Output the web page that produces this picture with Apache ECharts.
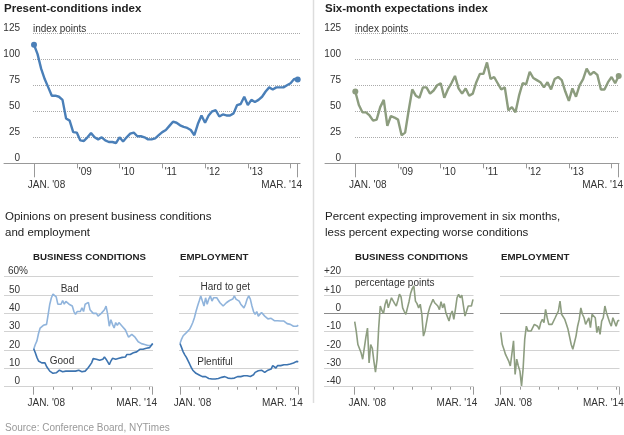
<!DOCTYPE html>
<html><head><meta charset="utf-8">
<script src="https://cdn.jsdelivr.net/npm/echarts@6/dist/echarts.min.js"></script>
<style>html,body{margin:0;padding:0;background:#fff}#c{width:624px;height:435px}</style>
</head><body><div id="c"></div>
<script>
// ---- data (monthly, Jan 2008 .. Mar 2014) ----
const presentIndex = [114,105,91,81,73,65,65,64,61,43, 41,30,29.5,22,21.5,25,29,25,23,25, 22,20.5,20.5,19.5,25,21,25,28.5,29.5,26, 26,25,23,23,24,27,30,32,36,40, 39,36.5,35,34,32,27,38,46,39,46, 50,51,45,47,46,46,48,56,57,64, 56,61,59,61,64,69,73,71,73,73, 73,75,77,81,80.5];
const expectIndex = [69,56,49,49,46,41,42,54,61,36, 45.5,44,42,27,29.5,51,71,65,63,73, 73,67,70,75,77,63,71,77,84,72, 67,72,65,67,78,86,86,97,81,83, 77,71,73,51,54,49,65,77,76,88, 82,80,78,73,78,71,81,83,80,69, 60,72,64,75,81,91,85,88,85,71, 71,78,83,77,84];
const bizBad = [20.4,23,25,29,32,33,33.5,33.5,34,39.5, 45,48.5,50.5,51,49,45,46,45,47,45, 46.5,46,45,45,44,41,39.5,41,42,41, 43,41,45,44,46,42,41,40,39.5,40, 38.5,39.5,40,41,42,44,39.5,33,36.5,34, 32,35,33.5,35,34,33,34,31,30.5,27, 28,28.5,28.5,27,26,24.5,24,23.5,24.5,23, 23,22.5,23,22.5,23.5];
const bizGood = [20.7,18.5,16,14,13.6,13,12,13,11,10.5, 8.5,7.6,7.3,7.5,7.6,8.5,9,8.5,8.2,9, 8.5,8.2,8.5,8,8.5,7.6,8.5,8.2,9,8.2, 8.2,8.5,8.5,9.5,10.5,11.3,13,15.3,16,15, 14,14.4,14,15,16.2,15,13.5,12,14,15.5, 16.2,15,16,15.5,16.2,16,16.7,16.2,17.6,16.7, 17.6,18,18.5,18,19,19.8,20.4,19.8,20.4,20.4, 21,21,21.3,21.6,23.5];
const jobsHard = [23.6,26,27.8,28.7,29.5,30.4,31.3,33,35,37.6, 41,44,46.7,49.5,46.7,44,48.5,45,47.8,49.5, 46.7,48.5,49.5,48.5,47.8,45.8,45,44,45,45.8, 46.7,47,47.8,47.8,49.5,47.8,48.5,46.7,45,44, 43,45,47.8,49.5,47.8,44,41,39.5,41,38.5, 39.5,40.5,39.5,38.5,37.6,37,38,37.3,37,36, 36.5,36,36.5,35.8,35,35.8,35,34.4,35,34, 33.5,33,33,33,33.5];
const jobsPlentiful = [23.6,21.3,19,17.4,16,14.2,12.4,10.5,9,8.4, 7.3,6.5,6.4,6,5.5,5.1,5.5,5.1,4.5,4.7, 4.2,4,4.2,4,4.5,4.7,5.1,5.1,5.5,5.1, 4.7,4.2,4.5,4.5,4.7,5.1,5.5,5.8,5.5,5.8, 6,5.6,6,6.4,5.6,5.1,6.5,7.8,7.8,8.7, 8.4,9,8.7,7.8,8.7,9,8.7,9.6,11.5,10.5, 10.2,11.5,10.9,11.5,11.5,12,12.4,12,12.7,12.4, 12.7,12.9,13.3,13.8,13.6];
const bizExpect = [-4.5,-10,-17,-17.5,-21.5,-25,-24,-13,-8,-27, -17,-19,-26,-32,-25,-8,4,1.6,-0.2,4.9, 7.6,3,3.5,8.5,9.5,5.3,4,7,10.5,9, 3,1,-0.5,3,6.5,11,13.5,15,6.7,5.3, 3,5,-0.5,-12.4,-9.6,-10.5,0.4,3.5,2.7,7.6, 5.8,5,4,2,6.4,3,5.3,0.4,-0.5,-4.2, -0.5,1.3,-3.3,2.2,8.5,10.4,8.5,10,10.4,-1.5, 1.3,4,5,4,7.6];
const jobsExpect = [-10.4,-17,-19.6,-22.4,-23.3,-26,-28.7,-22,-15,-33.3, -25,-28.7,-31.5,-39.6,-30,-14,-7,-9.6,-10.5,-9.6, -10.5,-6,-5,-7,-8.7,-5,-3.3,-5,2.2,-2.4, -6,-7,-6,-7,-2.4,-0.5,1.3,6.7,-0.5,-1.5, -3.3,-6,-8.7,-8.7,-17,-19.6,-16,-12.4,-7,-3.3, 3,-0.5,-2.4,-6,-5,-2.4,-7.8,-0.5,-0.2,-2.4, -10.5,-7,-11.5,-4.2,-2.4,4,0.4,-0.5,-5,-7, -2.4,-3.3,-7,-4.2,-3.8];
const yearTickMonths = [12,24,36,48,60,72];
const yearLabelMonths = [12,24,36,48,60];
const yearLabels = ["'09","'10","'11","'12","'13"];
const startLabel = "JAN. '08";
const endLabel = "MAR. '14";
const pctTicks = [0,10,20,30,40,50,60];
const netTicks = [-40,-30,-20,-10,0,10,20];

// ---- layout / styles ----
const LAST = presentIndex.length - 1;
const FONT = "'Liberation Sans', Arial, sans-serif";
const DOT = '#aaaaaa', FAINT = '#d2d2d2', AXIS = '#999', TXT = '#333', CLEAR = 'rgba(0,0,0,0)';
const pairs = a => a.map((v, i) => [i, v]);

const grids = [], xAxis = [], yAxis = [], series = [];

function mapX(L, R, x0, x1) {
  const ppm = (x1 - x0) / LAST;
  return { min: -(x0 - L) / ppm, max: LAST + (R - x1) / ppm };
}
function addGrid(left, top, width, height) {
  grids.push({ left, top, width, height, outerBoundsMode: 'none', containLabel: false });
  return grids.length - 1;
}
function yearAxis(gi, ext, tickLen, showLabels, lineColor) {
  return { type: 'value', gridIndex: gi, position: 'bottom', min: ext.min, max: ext.max,
    axisLine: { show: true, onZero: false, lineStyle: { color: lineColor, width: 1 } },
    axisTick: { show: true, customValues: yearTickMonths, length: tickLen, lineStyle: { color: AXIS } },
    axisLabel: showLabels ? { show: true, customValues: yearLabelMonths, margin: 4,
      formatter: v => '{y|' + yearLabels[yearLabelMonths.indexOf(v)] + '}',
      rich: { y: { padding: [0, 0, 0, 17], fontFamily: FONT, fontSize: 10, color: TXT } } } : { show: false },
    splitLine: { show: false } };
}
function endAxis(gi, ext, tickLen, margin) {
  return { type: 'value', gridIndex: gi, position: 'bottom', min: ext.min, max: ext.max,
    axisLine: { show: true, onZero: false, lineStyle: { color: CLEAR } },
    axisTick: { show: true, customValues: [0, LAST], length: tickLen, lineStyle: { color: AXIS } },
    axisLabel: { show: true, customValues: [0, LAST], margin,
      formatter: v => v === 0 ? '{a|' + startLabel + '}' : '{b|' + endLabel + '}',
      rich: { a: { padding: [0, 0, 0, 25], fontFamily: FONT, fontSize: 10, color: TXT },
              b: { padding: [0, 32, 0, 0], fontFamily: FONT, fontSize: 10, color: TXT } } },
    splitLine: { show: false } };
}
function lineSeries(data, xi, yi, color, width, ends) {
  return { type: 'line', xAxisIndex: xi, yAxisIndex: yi, data: pairs(data),
    lineStyle: { color, width }, itemStyle: { color },
    symbol: 'circle', showSymbol: !!ends, showAllSymbol: true,
    symbolSize: (v, p) => ends && (p.dataIndex === 0 || p.dataIndex === LAST) ? 6 : 0,
    silent: true, z: 5 };
}
function gridLines(left, right, top, h, yOpt, colors, lineType) {
  const g = addGrid(left, top, right - left, h);
  xAxis.push({ type: 'value', gridIndex: g, show: false, min: 0, max: 1 });
  yAxis.push(Object.assign({ type: 'value', gridIndex: g, z: 4, axisLine: { show: false }, axisTick: { show: false },
    splitLine: { show: true, lineStyle: { type: lineType, width: 1, color: colors } } }, yOpt));
}

// Top panels
function topPanel(L, R, x0, x1, gl, labelMargin, data, color) {
  const top = 33.3, h = 130;
  const ext = mapX(L, R, x0, x1);
  gridLines(gl, R, top, h, { min: 0, max: 125, interval: 25,
    axisLabel: { margin: labelMargin, verticalAlign: 'bottom', fontFamily: FONT, fontSize: 10, color: TXT } },
    [CLEAR, DOT, DOT, DOT, DOT, DOT], 'dotted');
  const g = addGrid(L, top, R - L, h);
  const xi = xAxis.length;
  xAxis.push(yearAxis(g, ext, 5, true, AXIS));
  xAxis.push(endAxis(g, ext, 14, 16.5));
  const yi = yAxis.length;
  yAxis.push({ type: 'value', gridIndex: g, min: 0, max: 125, interval: 25, show: false, splitLine: { show: false } });
  series.push(lineSeries(data, xi, yi, color, 2.4, true));
}
topPanel(4, 300, 34, 297.7, 33, 13, presentIndex, '#4a7fb8');
topPanel(325, 619, 355.3, 618.7, 355, 14, expectIndex, '#8c9c7e');

// Bottom panels
function bottomPanel(L, R, x0, x1, yOpt, ticks, lines, marks, zeroLine) {
  const top = 276.7, h = 110;
  const ext = mapX(L, R, x0, x1);
  gridLines(L, R, top, h, yOpt, ticks.map(t => zeroLine && t === 0 ? CLEAR : FAINT), 'solid');
  const g = addGrid(L, top, R - L, h);
  const xi = xAxis.length;
  xAxis.push(yearAxis(g, ext, 3, false, CLEAR));
  xAxis.push(endAxis(g, ext, 8, 12));
  const yi = yAxis.length;
  yAxis.push({ type: 'value', gridIndex: g, min: yOpt.min, max: yOpt.max, interval: yOpt.interval, show: false, splitLine: { show: false } });
  lines.forEach((ln, k) => {
    const s = lineSeries(ln.data, xi, yi, ln.color, 1.6, false);
    if (k === 0 && marks) {
      s.markPoint = { silent: true, symbol: 'rect', symbolSize: 0, data: marks,
        label: { show: true, position: 'inside', formatter: '{b}', fontFamily: FONT, fontSize: 10, color: TXT } };
    }
    if (k === 0 && zeroLine) {
      s.markLine = { silent: true, symbol: 'none', label: { show: false }, animation: false,
        lineStyle: { color: '#8a8a8a', type: 'solid', width: 1.2 }, data: [{ yAxis: 0 }] };
    }
    series.push(s);
  });
}
const pctLabels = { inside: true, align: 'right', verticalAlign: 'bottom', fontFamily: FONT, fontSize: 10, color: TXT };
bottomPanel(4, 153, 33.7, 152.7,
  { min: 0, max: 60, interval: 10, axisLabel: Object.assign({ margin: 24,
    formatter: v => v === 60 ? '{a|60%}' : '{b|' + v + '}',
    rich: { a: { fontFamily: FONT, fontSize: 10, color: TXT }, b: { padding: [0, 8, 0, 0], fontFamily: FONT, fontSize: 10, color: TXT } } }, pctLabels) },
  pctTicks,
  [{ data: bizBad, color: '#90b4dc' }, { data: bizGood, color: '#3d74b0' }],
  [{ name: 'Bad', coord: [22.3, 53.3] }, { name: 'Good', coord: [17.6, 14] }], false);
bottomPanel(179, 298.5, 180, 298.3,
  { min: 0, max: 60, interval: 10, axisLabel: { show: false } },
  pctTicks,
  [{ data: jobsHard, color: '#90b4dc' }, { data: jobsPlentiful, color: '#3d74b0' }],
  [{ name: 'Hard to get', coord: [28.3, 54] }, { name: 'Plentiful', coord: [21.9, 13.6] }], false);
bottomPanel(324, 473.5, 354.7, 473,
  { min: -40, max: 20, interval: 10, axisLabel: Object.assign({ margin: 17,
    formatter: v => v > 0 ? '+' + v : String(v) }, pctLabels) },
  netTicks,
  [{ data: bizExpect, color: '#8d9d80' }], null, true);
bottomPanel(500, 619.5, 500.7, 619.3,
  { min: -40, max: 20, interval: 10, axisLabel: { show: false } },
  netTicks,
  [{ data: jobsExpect, color: '#8d9d80' }], null, true);

const bold = (s) => ({ fontFamily: FONT, fontSize: s, fontWeight: 'bold', color: '#222' });
const reg = (s, c) => ({ fontFamily: FONT, fontSize: s, fontWeight: 'normal', color: c || '#222', lineHeight: 16 });
const title = [
  { text: 'Present-conditions index', left: 4, top: 3, padding: 0, textStyle: bold(11.5) },
  { text: 'index points', left: 33, top: 21.5, padding: 0, textStyle: reg(10, TXT) },
  { text: 'Six-month expectations index', left: 325, top: 3, padding: 0, textStyle: bold(11.5) },
  { text: 'index points', left: 355, top: 21.5, padding: 0, textStyle: reg(10, TXT) },
  { text: 'Opinions on present business conditions\nand employment', left: 5, top: 209, padding: 0, textStyle: reg(11.5) },
  { text: 'Percent expecting improvement in six months,\nless percent expecting worse conditions', left: 325, top: 209, padding: 0, textStyle: reg(11.5) },
  { text: 'BUSINESS CONDITIONS', left: 33, top: 252, padding: 0, textStyle: bold(9.7) },
  { text: 'EMPLOYMENT', left: 180, top: 252, padding: 0, textStyle: bold(9.7) },
  { text: 'BUSINESS CONDITIONS', left: 355, top: 252, padding: 0, textStyle: bold(9.7) },
  { text: 'EMPLOYMENT', left: 501, top: 252, padding: 0, textStyle: bold(9.7) },
  { text: 'percentage points', left: 355, top: 275, padding: 0, textStyle: reg(10, TXT) },
  { text: 'Source: Conference Board, NYTimes', left: 5, top: 423, padding: 0,
    textStyle: { fontFamily: FONT, fontSize: 10, fontWeight: 'normal', color: '#999' } }
];

const chart = echarts.init(document.getElementById('c'), null, { renderer: 'canvas' });
chart.setOption({
  animation: false,
  backgroundColor: '#fff',
  title, grid: grids, xAxis, yAxis, series,
  graphic: [{ type: 'line', silent: true, shape: { x1: 313.5, y1: 0, x2: 313.5, y2: 403 },
    style: { stroke: '#ddd', lineWidth: 1.5 } }]
});
</script></body></html>
